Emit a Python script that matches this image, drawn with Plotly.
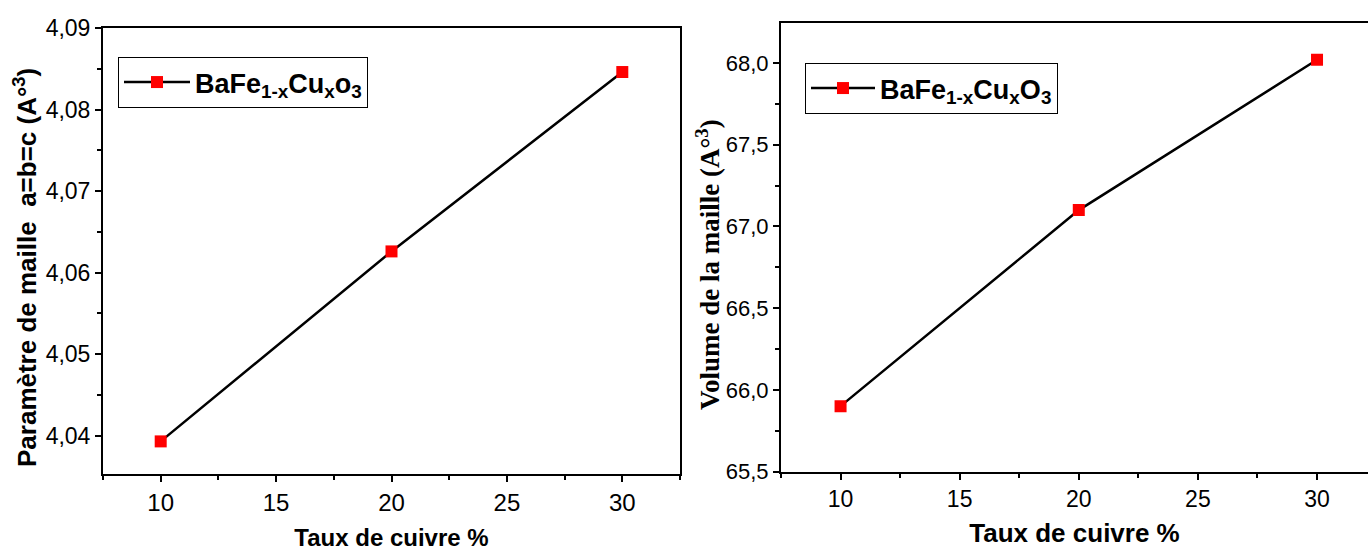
import plotly.graph_objects as go

# Data
taux_cuivre = [10, 20, 30]
parametre_maille = [4.0393, 4.0626, 4.0846]
volume_maille = [65.90, 67.10, 68.02]
legend_left = "<b>BaFe<sub>1-x</sub>Cu<sub>x</sub>o<sub>3</sub></b>"
legend_right = "<b>BaFe<sub>1-x</sub>Cu<sub>x</sub>O<sub>3</sub></b>"
title_x = "<b>Taux de cuivre %</b>"
title_y_left = "<b>Paramètre de maille  a=b=c (A°<sup>3</sup>)</b>"
title_y_right = "<b>Volume de la maille (A°<sup>3</sup>)</b>"

W, H = 1368, 551
SANS = "Liberation Sans, Arial, sans-serif"
SERIF = "Liberation Serif, Times New Roman, serif"

fig = go.Figure()
fig.add_trace(go.Scatter(
    x=taux_cuivre, y=parametre_maille, mode="lines+markers", name=legend_left,
    line=dict(color="black", width=2.5),
    marker=dict(symbol="square", size=12, color="#ff0000"),
    xaxis="x", yaxis="y", legend="legend",
))
fig.add_trace(go.Scatter(
    x=taux_cuivre, y=volume_maille, mode="lines+markers", name=legend_right,
    line=dict(color="black", width=2.5),
    marker=dict(symbol="square", size=12, color="#ff0000"),
    xaxis="x2", yaxis="y2", legend="legend2",
))

axis_common = dict(
    showgrid=False, zeroline=False, showline=True, linecolor="black", linewidth=2,
    ticks="outside", tickcolor="black", tickwidth=2, ticklen=6, automargin=False,
)

fig.update_layout(
    template="none",
    width=W, height=H,
    margin=dict(l=0, r=0, t=0, b=0, pad=0),
    paper_bgcolor="white", plot_bgcolor="white",
    separators=", ",
    showlegend=True,
    xaxis=dict(
        **axis_common, domain=[103 / W, 680 / W], range=[7.5, 32.5],
        tick0=0, dtick=5, mirror=True, anchor="y",
        tickfont=dict(family=SANS, size=24, color="black"),
        minor=dict(ticks="outside", dtick=2.5, ticklen=4, tickwidth=2, tickcolor="black"),
        title=dict(text=title_x, font=dict(family=SANS, size=24, color="black"), standoff=19),
    ),
    yaxis=dict(
        **axis_common, domain=[1 - 474 / H, 1 - 28 / H], range=[4.0353, 4.09],
        tick0=4.0, dtick=0.01, tickformat=".2f", mirror=True, anchor="x",
        tickfont=dict(family=SANS, size=23, color="black"),
        minor=dict(ticks="outside", dtick=0.005, ticklen=4, tickwidth=2, tickcolor="black"),
    ),
    xaxis2=dict(
        **axis_common, domain=[781 / W, 1.0], range=[7.5, 32.14],
        tick0=0, dtick=5, mirror=True, anchor="y2",
        tickfont=dict(family=SANS, size=23, color="black"),
        minor=dict(ticks="outside", dtick=2.5, ticklen=4, tickwidth=2, tickcolor="black"),
        title=dict(text=title_x, font=dict(family=SANS, size=26, color="black"), standoff=13),
    ),
    yaxis2=dict(
        **axis_common, domain=[1 - 471.5 / H, 1 - 23 / H], range=[65.5, 68.245],
        tick0=65.5, dtick=0.5, tickformat=".1f", mirror=False, anchor="x2",
        tickfont=dict(family=SANS, size=22, color="black"),
        minor=dict(ticks="outside", dtick=0.25, ticklen=4, tickwidth=2, tickcolor="black"),
    ),
    legend=dict(
        x=118 / W, y=1 - 57 / H, xanchor="left", yanchor="top",
        bordercolor="black", borderwidth=1, bgcolor="white", itemwidth=66,
        font=dict(family=SANS, size=27, color="black"),
    ),
    legend2=dict(
        x=805 / W, y=1 - 63 / H, xanchor="left", yanchor="top",
        bordercolor="black", borderwidth=1, bgcolor="white", itemwidth=64,
        font=dict(family=SANS, size=27, color="black"),
    ),
    annotations=[
        dict(text=title_y_left, xref="paper", yref="paper", x=25 / W, y=1 - 268 / H,
             xanchor="center", yanchor="middle", textangle=-90, showarrow=False,
             font=dict(family=SANS, size=26, color="black")),
        dict(text=title_y_right, xref="paper", yref="paper", x=708 / W, y=1 - 265 / H,
             xanchor="center", yanchor="middle", textangle=-90, showarrow=False,
             font=dict(family=SERIF, size=27, color="black")),
    ],
)

fig.write_html(
    "out.html",
    config={"displayModeBar": False},
    post_script="document.body.style.margin='0';document.body.style.overflow='hidden';",
)
